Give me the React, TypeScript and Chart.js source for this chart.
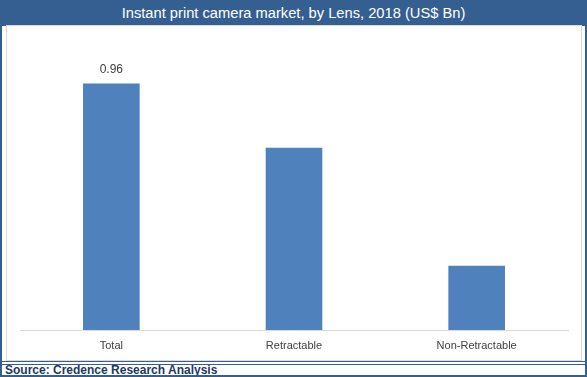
import React, { useEffect, useRef } from "react";
import { Chart, registerables } from "chart.js";

Chart.register(...registerables);

const categories = ["Total", "Retractable", "Non-Retractable"];
const values = [0.96, 0.71, 0.25];
const showValueLabel = [true, false, false];
const titleText = "Instant print camera market, by Lens, 2018 (US$ Bn)";
const sourceText = "Source: Credence Research Analysis";

const BLUE = "#365f91";

export default function App() {
  const ref = useRef<HTMLCanvasElement | null>(null);

  useEffect(() => {
    if (!ref.current) return;
    const valueLabels = {
      id: "valueLabels",
      afterDatasetsDraw(chart: any) {
        const ctx = chart.ctx;
        const meta = chart.getDatasetMeta(0);
        ctx.save();
        ctx.fillStyle = "#404040";
        ctx.font = "12px 'Liberation Sans', Arial, sans-serif";
        ctx.textAlign = "center";
        ctx.textBaseline = "middle";
        meta.data.forEach((bar: any, i: number) => {
          if (!showValueLabel[i]) return;
          ctx.fillText(values[i].toFixed(2), bar.x, bar.y - 14);
        });
        ctx.restore();
      },
    };
    const chart = new Chart(ref.current, {
      type: "bar",
      data: {
        labels: categories,
        datasets: [
          {
            data: values,
            backgroundColor: "#4f81bd",
            borderWidth: 0,
            categoryPercentage: 1,
            barPercentage: 0.31,
          },
        ],
      },
      options: {
        animation: false,
        responsive: false,
        maintainAspectRatio: false,
        layout: { padding: { left: 20, right: 19, top: 22, bottom: 17 } },
        plugins: {
          legend: { display: false },
          tooltip: { enabled: false },
          title: { display: false },
        },
        scales: {
          x: {
            grid: { display: false, drawTicks: false },
            border: { display: true, color: "#d9d9d9", width: 1 },
            ticks: {
              color: "#404040",
              font: { family: "'Liberation Sans', Arial, sans-serif", size: 11 },
              padding: 9,
            },
            afterFit: (s: any) => {
              s.height = 30;
            },
          },
          y: {
            display: false,
            min: 0,
            max: 1.2,
          },
        },
      },
      plugins: [valueLabels],
    });
    return () => chart.destroy();
  }, []);

  return (
    <div
      style={{
        position: "fixed",
        left: 0,
        top: 0,
        width: 587,
        height: 377,
        background: "#fff",
        boxSizing: "border-box",
        border: `2px solid ${BLUE}`,
        overflow: "hidden",
      }}
    >
      <div
        style={{
          position: "absolute",
          left: -2,
          top: -2,
          width: 587,
          height: 26,
          background: BLUE,
          color: "#fff",
          font: "14.7px 'Liberation Sans', Arial, sans-serif",
          textAlign: "center",
          lineHeight: "26px",
        }}
      >
        {titleText}
      </div>
      <div
        style={{
          position: "absolute",
          left: 4,
          top: 23,
          width: 576,
          height: 336,
          boxSizing: "border-box",
          border: "1px solid #d9d9d9",
        }}
      />
      <div style={{ position: "absolute", left: -2, top: 359, width: 587, height: 1, background: BLUE }} />
      <div style={{ position: "absolute", left: -2, top: 362, width: 587, height: 1, background: BLUE }} />
      <div
        style={{
          position: "absolute",
          left: 3,
          top: 362,
          height: 13,
          color: "#1f3864",
          font: "bold 12px 'Liberation Sans', Arial, sans-serif",
          lineHeight: "13px",
          whiteSpace: "nowrap",
        }}
      >
        {sourceText}
      </div>
      <canvas
        ref={ref}
        width={587}
        height={377}
        style={{ position: "absolute", left: -2, top: -2, width: 587, height: 377, pointerEvents: "none" }}
      />
    </div>
  );
}
